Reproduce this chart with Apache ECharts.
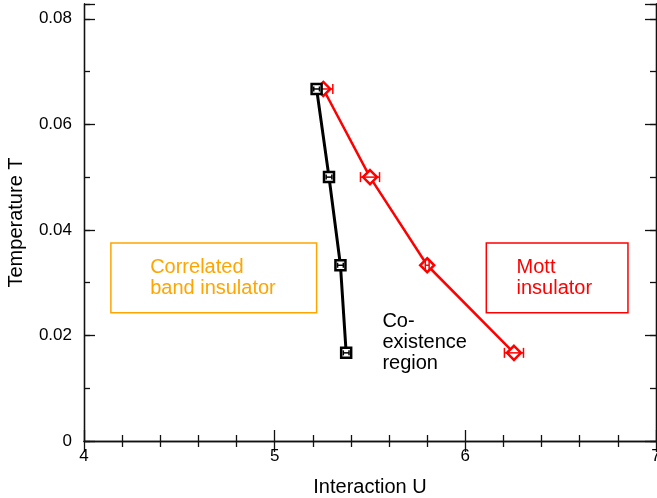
<!DOCTYPE html>
<html>
<head>
<meta charset="utf-8">
<script src="https://cdn.jsdelivr.net/npm/echarts@6/dist/echarts.min.js"></script>
<style>
  html, body { margin: 0; padding: 0; background: #fff; }
  #chart { width: 657px; height: 498px; }
</style>
</head>
<body>
<div id="chart"></div>
<script>
// Phase boundaries of the correlated band insulator / Mott insulator transition
const temperatures = [0.0667, 0.05, 0.0333, 0.0167];
const coexistLowerU = [5.22, 5.285, 5.345, 5.375];   // black squares
const coexistLowerErr = [0.015, 0.015, 0.015, 0.015];
const coexistUpperU = [5.255, 5.50, 5.80, 6.255];     // red diamonds
const coexistUpperErr = [0.05, 0.05, 0.01, 0.05];

const xTicks = [4, 5, 6, 7];
const yTicks = [0, 0.02, 0.04, 0.06, 0.08];

const bandBox = [[4.141, 0.0375], [5.22, 0.0243]];
const mottBox = [[6.11, 0.0375], [6.853, 0.0243]];
const coexistLabelAt = [5.565, 0.0186];

const FONT = '"Liberation Sans", Arial, Helvetica, sans-serif';
const ORANGE = '#FFA500';
const RED = '#FF0000';

const lowerPts = temperatures.map((t, i) => [coexistLowerU[i], t, coexistLowerErr[i]]);
const upperPts = temperatures.map((t, i) => [coexistUpperU[i], t, coexistUpperErr[i]]);

function errorBars(color, cap) {
  return function (params, api) {
    const u = api.value(0), t = api.value(1), e = api.value(2);
    const a = api.coord([u - e, t]);
    const b = api.coord([u + e, t]);
    const style = { stroke: color, lineWidth: 1.5 };
    return {
      type: 'group',
      children: [
        { type: 'line', shape: { x1: a[0], y1: a[1], x2: b[0], y2: b[1] }, style },
        { type: 'line', shape: { x1: a[0], y1: a[1] - cap, x2: a[0], y2: a[1] + cap }, style },
        { type: 'line', shape: { x1: b[0], y1: b[1] - cap, x2: b[0], y2: b[1] + cap }, style }
      ]
    };
  };
}

const axisLine = { show: true, lineStyle: { color: '#111', width: 1.3 } };
const yMax = 0.0828;

function yAxisDef(position, interval, tickLen, withLabels) {
  return {
    type: 'value', position, min: 0, max: yMax, interval,
    axisLine,
    axisTick: { show: true, inside: true, length: tickLen, lineStyle: { color: '#111', width: 1.3 } },
    axisLabel: withLabels ? {
      show: true, fontFamily: FONT, fontSize: 17, color: '#000', margin: 12,
      formatter: v => {
        const hit = yTicks.find(t => Math.abs(t - v) < 1e-9);
        if (hit === undefined) return '';
        return hit === 0 ? '0' : hit.toFixed(2);
      }
    } : { show: false },
    splitLine: { show: false }
  };
}

function xAxisDef(position, withLabels) {
  return {
    type: 'value', position, min: xTicks[0], max: xTicks[xTicks.length - 1], interval: 1,
    axisLine,
    axisTick: { show: true, inside: true, length: 11, lineStyle: { color: '#111', width: 1.3 } },
    minorTick: { show: true, splitNumber: 5, length: 6, lineStyle: { color: '#111', width: 1.3 } },
    axisLabel: withLabels ? {
      show: true, fontFamily: FONT, fontSize: 17, color: '#000', margin: 7,
      formatter: v => String(v)
    } : { show: false },
    splitLine: { show: false },
    name: withLabels ? 'Interaction U' : '',
    nameLocation: 'middle', nameGap: 36,
    nameTextStyle: { fontFamily: FONT, fontSize: 20, color: '#000' }
  };
}

const chart = echarts.init(document.getElementById('chart'), null, { renderer: 'canvas' });

const yMain = yAxisDef('left', 0.02, 11, true);
yMain.name = 'Temperature T';
yMain.nameLocation = 'middle';
yMain.nameGap = 58;
yMain.nameTextStyle = { fontFamily: FONT, fontSize: 20, color: '#000' };

chart.setOption({
  animation: false,
  backgroundColor: '#fff',
  grid: { left: 84, right: 1, top: 4, bottom: 57, containLabel: false, outerBoundsMode: 'none' },
  xAxis: [xAxisDef('bottom', true), xAxisDef('top', false)],
  yAxis: [
    yMain,
    yAxisDef('left', 0.01, 6, false),
    yAxisDef('right', 0.02, 11, false),
    yAxisDef('right', 0.01, 6, false)
  ],
  series: [
    {
      name: 'boxes', type: 'line', data: [], xAxisIndex: 0, yAxisIndex: 0,
      markArea: {
        silent: true,
        data: [
          [
            { coord: bandBox[0], itemStyle: { color: 'rgba(0,0,0,0)', borderColor: ORANGE, borderWidth: 1.5 },
              label: { show: true, position: 'insideLeft', distance: 40, formatter: 'Correlated\nband insulator',
                       color: ORANGE, fontFamily: FONT, fontSize: 20, lineHeight: 21, align: 'left' } },
            { coord: bandBox[1] }
          ],
          [
            { coord: mottBox[0], itemStyle: { color: 'rgba(0,0,0,0)', borderColor: RED, borderWidth: 1.5 },
              label: { show: true, position: 'insideLeft', distance: 31, formatter: 'Mott\ninsulator',
                       color: RED, fontFamily: FONT, fontSize: 20, lineHeight: 21, align: 'left' } },
            { coord: mottBox[1] }
          ]
        ]
      },
      markPoint: {
        silent: true,
        symbol: 'circle', symbolSize: 0,
        data: [{
          coord: coexistLabelAt,
          label: { show: true, position: 'right', distance: 0, formatter: 'Co-\nexistence\nregion',
                   color: '#000', fontFamily: FONT, fontSize: 20, lineHeight: 21, align: 'left' }
        }]
      }
    },
    {
      name: 'upper', type: 'line', data: upperPts, z: 3,
      lineStyle: { color: RED, width: 2.5 },
      symbol: 'diamond', symbolSize: 14,
      itemStyle: { color: '#fff', borderColor: RED, borderWidth: 2.5 }
    },
    {
      name: 'upperErr', type: 'custom', data: upperPts, z: 4,
      renderItem: errorBars(RED, 5)
    },
    {
      name: 'lower', type: 'line', data: lowerPts, z: 5,
      lineStyle: { color: '#000', width: 3 },
      symbol: 'rect', symbolSize: 10,
      itemStyle: { color: '#fff', borderColor: '#000', borderWidth: 2.5 }
    },
    {
      name: 'lowerErr', type: 'custom', data: lowerPts, z: 6,
      renderItem: errorBars('#000', 2.5)
    }
  ]
});
</script>
</body>
</html>
